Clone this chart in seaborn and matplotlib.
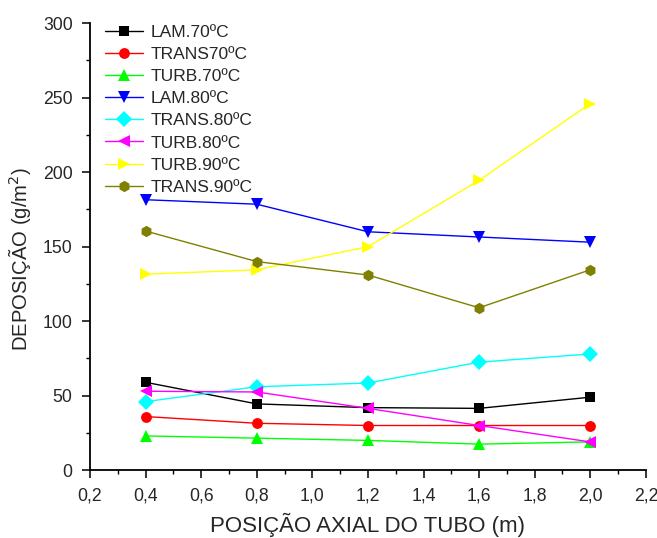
import numpy as np
import pandas as pd
import matplotlib
matplotlib.use("Agg")
import matplotlib.pyplot as plt
import seaborn as sns
from matplotlib.ticker import MultipleLocator, FuncFormatter

# Axial positions along the tube (m)
posicao = [0.4, 0.8, 1.2, 1.6, 2.0]

# Deposition (g/m^2) for each flow regime / temperature
lam_70 = [59, 44.5, 42, 41.5, 49]
trans_70 = [36, 31.5, 30, 30, 30]
turb_70 = [23, 21.5, 20, 17.5, 19]
lam_80 = [181.5, 178.5, 160, 156.5, 153]
trans_80 = [46, 56, 58.5, 72.5, 78]
turb_80 = [53, 52.5, 41.5, 30, 19]
turb_90 = [131.5, 134.5, 150, 194.5, 246]
trans_90 = [160.5, 140, 131, 109, 134.5]

series_names = ["LAM.70ºC", "TRANS70ºC", "TURB.70ºC", "LAM.80ºC",
                "TRANS.80ºC", "TURB.80ºC", "TURB.90ºC", "TRANS.90ºC"]
series_values = [lam_70, trans_70, turb_70, lam_80,
                 trans_80, turb_80, turb_90, trans_90]
colors = ["#000000", "#ff0000", "#00ff00", "#0000ff",
          "#00ffff", "#ff00ff", "#ffff00", "#808000"]
markers = ["s", "o", "^", "v", "D", "<", ">", "h"]
msizes = [7, 7.8, 8.6, 8.6, 8.2, 8.6, 8.6, 8.2]

sns.set_theme(style="ticks")
plt.rcParams["font.family"] = ["Liberation Sans", "DejaVu Sans"]

fig = plt.figure(figsize=(6.57, 5.38), dpi=100)
ax = fig.add_axes([0.137, 0.126, 0.846, 0.831])

for name, vals, c, m, ms in zip(series_names, series_values, colors, markers, msizes):
    sns.lineplot(x=posicao, y=vals, color=c, marker=m, markersize=ms,
                 markeredgewidth=0, linewidth=1.0, label=name, ax=ax)

ax.set_xlim(0.2, 2.2)
ax.set_ylim(0, 300)
ax.xaxis.set_major_locator(MultipleLocator(0.2))
ax.xaxis.set_minor_locator(MultipleLocator(0.1))
ax.yaxis.set_major_locator(MultipleLocator(50))
ax.yaxis.set_minor_locator(MultipleLocator(25))
ax.xaxis.set_major_formatter(FuncFormatter(lambda v, p: f"{v:.1f}".replace(".", ",")))
ax.tick_params(axis="both", which="major", length=6, width=1.1, labelsize=12.7,
               pad=6.5, direction="out", color="black")
ax.tick_params(axis="both", which="minor", length=3, width=1.0, direction="out",
               color="black")
for side in ["left", "bottom"]:
    ax.spines[side].set_linewidth(1.3)
    ax.spines[side].set_color("black")
sns.despine(ax=ax)

ax.set_xlabel("POSIÇÃO AXIAL DO TUBO (m)", fontsize=16, labelpad=6)
ax.set_ylabel("DEPOSIÇÃO (g/m$^2$)", fontsize=14.6)
ax.yaxis.set_label_coords(-0.102, 0.472)

leg = ax.legend(loc="upper left", bbox_to_anchor=(0.027, 0.996), frameon=False,
                fontsize=12.5, handlelength=2.2, handletextpad=0.4,
                labelspacing=0.4, borderaxespad=0.0, borderpad=0.0)

fig.savefig("out.png", dpi=100)
